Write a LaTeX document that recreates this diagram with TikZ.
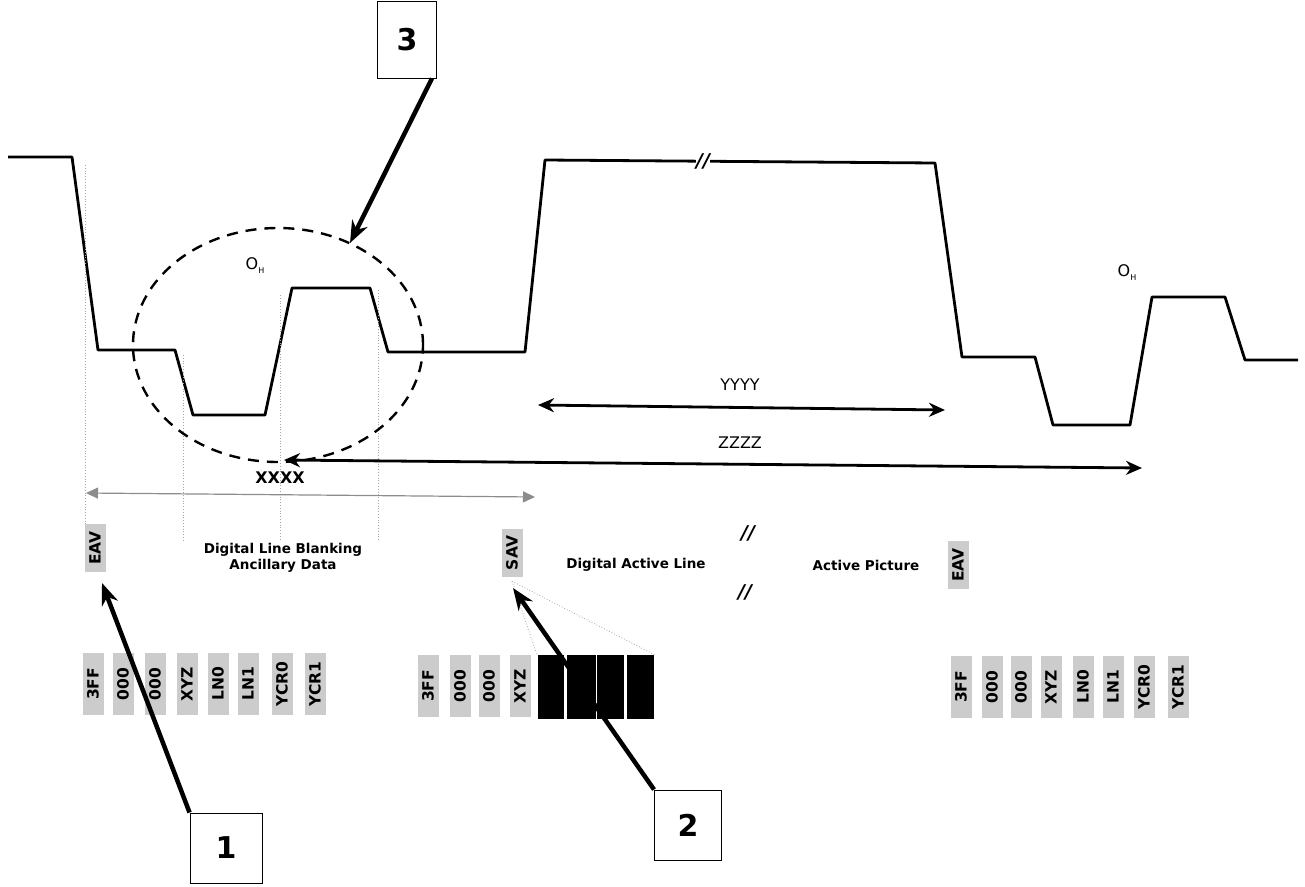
\documentclass[tikz,border=0pt]{standalone}
\usepackage{fontspec}
\setmainfont{DejaVu Sans}
\usetikzlibrary{arrows.meta,shapes.geometric}
\begin{document}
\begin{tikzpicture}[x=1pt,y=-1pt,
  wave/.style={line width=2.8pt, line join=round},
  word/.style={rotate=90, fill=black!20, inner sep=1pt, minimum height=21pt, minimum width=62pt, font=\fontsize{15.5}{15.5}\selectfont\bfseries},
  blk/.style={fill=black, draw=black},
  lbl/.style={font=\fontsize{13.5}{16}\selectfont\bfseries, align=center},
  dim/.style={font=\fontsize{16}{16}\selectfont},
  numbox/.style={draw, line width=0.9pt, font=\fontsize{30}{32}\selectfont\bfseries},
  bigarrow/.style={line width=4.5pt, -{Stealth[length=22pt,width=17pt]}},
  dimarrow/.style={line width=2.8pt, {Stealth[length=16pt,width=14pt]}-{Stealth[length=16pt,width=14pt]}},
  guide/.style={black!35, dotted, line width=0.8pt},
  ohlbl/.style={font=\fontsize{16}{16}\selectfont},
  brkmark/.style={font=\fontsize{19}{19}\selectfont\itshape\bfseries}
]
\useasboundingbox (0,0) rectangle (1305,886);

% waveform
\draw[wave] (8,157) -- (72,157) -- (98,350) -- (175,350) -- (193,415) -- (265,415)
  -- (292,288) -- (370,288) -- (388,352) -- (525,352) -- (545,160) -- (935,163)
  -- (962,357) -- (1035,357) -- (1053,425) -- (1130,425) -- (1152,297) -- (1225,297)
  -- (1245,360) -- (1298,360);
\node[brkmark, inner sep=0pt, fill=white] (brk) at (703,161) {//};

% guide lines
\draw[guide] (85,165) -- (85,540);
\draw[guide] (183,355) -- (183,540);
\draw[guide] (280,295) -- (280,540);
\draw[guide] (378,290) -- (378,540);

% O_H labels
\node[ohlbl] (oh1) at (255,266) {O\raisebox{-4pt}{\fontsize{8}{8}\selectfont H}};
\node[ohlbl] (oh2) at (1127,273) {O\raisebox{-4pt}{\fontsize{8}{8}\selectfont H}};

% dashed ellipse
\node[ellipse, draw, dash pattern=on 11pt off 8pt, line width=2.4pt, minimum width=290pt, minimum height=234pt] (circ) at (278,345) {};

% dimension arrows
\coordinate (y1) at (538,405);
\coordinate (y2) at (945,410);
\draw[dimarrow] (y1) -- (y2);
\node[dim] (ylbl) at (740,385) {YYYY};
\coordinate (z1) at (284,460);
\coordinate (z2) at (1142,468);
\draw[dimarrow] (z1) -- (z2);
\node[dim] (zlbl) at (740,443) {ZZZZ};
\coordinate (x1) at (86,493);
\coordinate (x2) at (535,497);
\draw[black!45, line width=1.2pt, {Triangle[length=12pt,width=11pt]}-{Triangle[length=12pt,width=11pt]}] (x1) -- (x2);
\node[font=\fontsize{16}{16}\selectfont\bfseries] (xlbl) at (280,478) {XXXX};

% labels row
\node[word, minimum width=48pt] (eav1) at (95,548) {EAV};
\node[lbl] (dlb) at (283,558) {Digital Line Blanking\\Ancillary Data};
\node[word, minimum width=48pt] (sav) at (512,553) {SAV};
\node[lbl] (dal) at (636,565) {Digital Active Line};
\node[lbl] (ap) at (866,565) {Active Picture};
\node[word, minimum width=48pt] (eav2) at (958,565) {EAV};
\node[brkmark] (s1) at (748,533) {//};
\node[brkmark] (s2) at (745,592) {//};

% word rows
\foreach \t/\x [count=\i] in {3FF/93,000/123,000/155,XYZ/187,LN0/218,LN1/248,YCR0/282,YCR1/315}
  \node[word] (wa\i) at (\x,684) {\t};
\foreach \t/\x [count=\i] in {3FF/428,000/460,000/489,XYZ/520}
  \node[word] (wb\i) at (\x,686) {\t};
\foreach \xa/\xb [count=\i] in {538/563,567/595,597/623,627/653}
  \fill[blk] (\xa,655) rectangle (\xb,718);
\foreach \t/\x [count=\i] in {3FF/961,000/992,000/1021,XYZ/1051,LN0/1083,LN1/1113,YCR0/1144,YCR1/1178}
  \node[word] (wc\i) at (\x,687) {\t};

% fan from SAV
\coordinate (fl) at (537,655);
\coordinate (fr) at (655,655);
\draw[guide] (sav.west) ++(0,4) -- (fl);
\draw[guide] (sav.west) ++(0,4) -- (fr);

% numbered boxes
\node[numbox, minimum width=72pt, minimum height=70pt] (b1) at (226,848) {1};
\node[numbox, minimum width=67pt, minimum height=70pt] (b2) at (688,825) {2};
\node[numbox, minimum width=59pt, minimum height=77pt] (b3) at (407,39.5) {3};

\coordinate (t1) at (102,583);
\coordinate (t2) at (513,588);
\coordinate (t3) at (350,243);
\draw[bigarrow] (b1.north west) -- (t1);
\draw[bigarrow] (b2.north west) -- (t2);
\draw[bigarrow] ([xshift=-5pt]b3.south east) -- (t3);
\end{tikzpicture}
\end{document}
